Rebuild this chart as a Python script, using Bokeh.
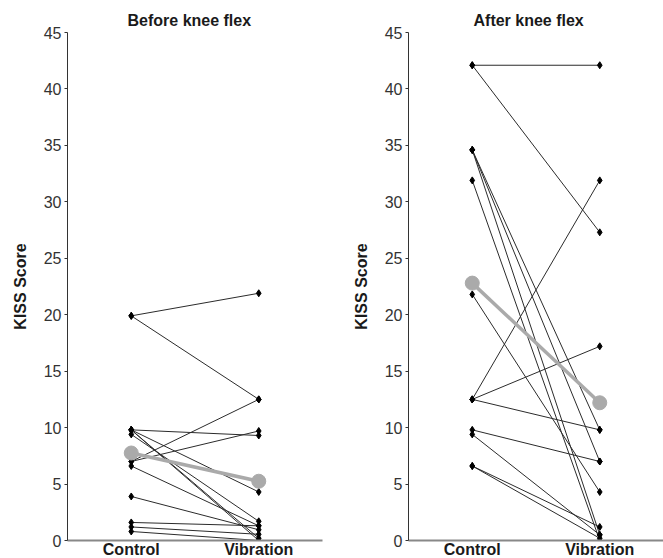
from bokeh.plotting import figure
from bokeh.models import ColumnDataSource, FactorRange, Range1d, FixedTicker
from bokeh.layouts import row
from bokeh.embed import file_html
from bokeh.resources import INLINE

# ---- data ----
categories = ["Control", "Vibration"]
y_ticks = [0, 5, 10, 15, 20, 25, 30, 35, 40, 45]
titles = ["Before knee flex", "After knee flex"]
y_label = "KISS Score"

before_control = [19.9, 19.9, 9.8, 9.8, 9.8, 9.8, 9.4, 7.0, 7.0, 6.6, 3.9, 1.6, 1.2, 0.8]
before_vibration = [21.9, 12.5, 9.3, 4.3, 0.2, 0.0, 1.7, 12.5, 9.7, 1.3, 0.95, 1.3, 0.55, 0.0]
before_mean = [7.75, 5.25]

after_control = [42.1, 42.1, 34.6, 34.6, 34.6, 31.9, 21.8, 12.5, 12.5, 12.5, 9.8, 9.4, 6.6, 6.6]
after_vibration = [42.1, 27.3, 0.5, 7.0, 9.8, 0.0, 4.3, 31.9, 17.2, 9.8, 7.0, 0.5, 1.2, 0.2]
after_mean = [22.8, 12.2]

FONT = "Liberation Sans"


def make_panel(title, ctrl, vib, means, width, border_left, border_right, title_offset):
    p = figure(width=width, height=560,
               x_range=FactorRange(*categories, range_padding=0),
               y_range=Range1d(0, 45),
               output_backend="svg", toolbar_location=None,
               min_border_left=border_left, min_border_right=border_right,
               min_border_top=32, min_border_bottom=19)
    n = len(ctrl)
    src = ColumnDataSource(dict(x0=[categories[0]] * n, y0=ctrl,
                                x1=[categories[1]] * n, y1=vib))
    p.segment("x0", "y0", "x1", "y1", source=src, line_color="#2b2b2b", line_width=1)
    p.scatter(x="x0", y="y0", marker="diamond", size=7, color="black", source=src)
    p.scatter(x="x1", y="y1", marker="diamond", size=7, color="black", source=src)
    msrc = ColumnDataSource(dict(x=categories, y=means))
    p.line(x="x", y="y", source=msrc, line_color="#aaaaaa", line_width=3.5)
    p.scatter(x="x", y="y", source=msrc, size=14, color="#aaaaaa")

    p.title.text = title
    p.title.align = "left"
    p.title.offset = title_offset
    p.title.text_font = FONT
    p.title.text_font_size = "16px"
    p.title.text_font_style = "bold"
    p.title.text_color = "#1a1a1a"
    p.title.standoff = 7

    p.xgrid.grid_line_color = None
    p.ygrid.grid_line_color = None
    p.outline_line_color = None

    xa = p.xaxis[0]
    xa.axis_line_color = "#888888"
    xa.axis_line_width = 2
    xa.major_tick_line_color = None
    xa.minor_tick_line_color = None
    xa.major_tick_out = 0
    xa.major_tick_in = 0
    xa.minor_tick_out = 0
    xa.axis_label_standoff = 0
    xa.major_label_text_font = FONT
    xa.major_label_text_font_size = "16px"
    xa.major_label_text_font_style = "bold"
    xa.major_label_text_color = "#1a1a1a"
    xa.major_label_standoff = 0

    ya = p.yaxis[0]
    ya.ticker = FixedTicker(ticks=y_ticks)
    ya.axis_label = y_label
    ya.axis_label_text_font = FONT
    ya.axis_label_text_font_size = "16px"
    ya.axis_label_text_font_style = "bold"
    ya.axis_label_text_color = "#1a1a1a"
    ya.axis_label_standoff = 12
    ya.axis_line_color = "#333333"
    ya.major_tick_line_color = "#333333"
    ya.major_tick_out = 3
    ya.major_tick_in = 0
    ya.minor_tick_line_color = None
    ya.minor_tick_out = 0
    ya.major_label_text_font = FONT
    ya.major_label_text_font_size = "16px"
    ya.major_label_text_color = "#333333"
    ya.major_label_standoff = 3
    return p


left = make_panel(titles[0], before_control, before_vibration, before_mean, 349, 67, 27, 60)
right = make_panel(titles[1], after_control, after_vibration, after_mean, 314, 59, 0, 65)

layout = row(left, right)
open("out.html", "w").write(file_html(layout, INLINE))
